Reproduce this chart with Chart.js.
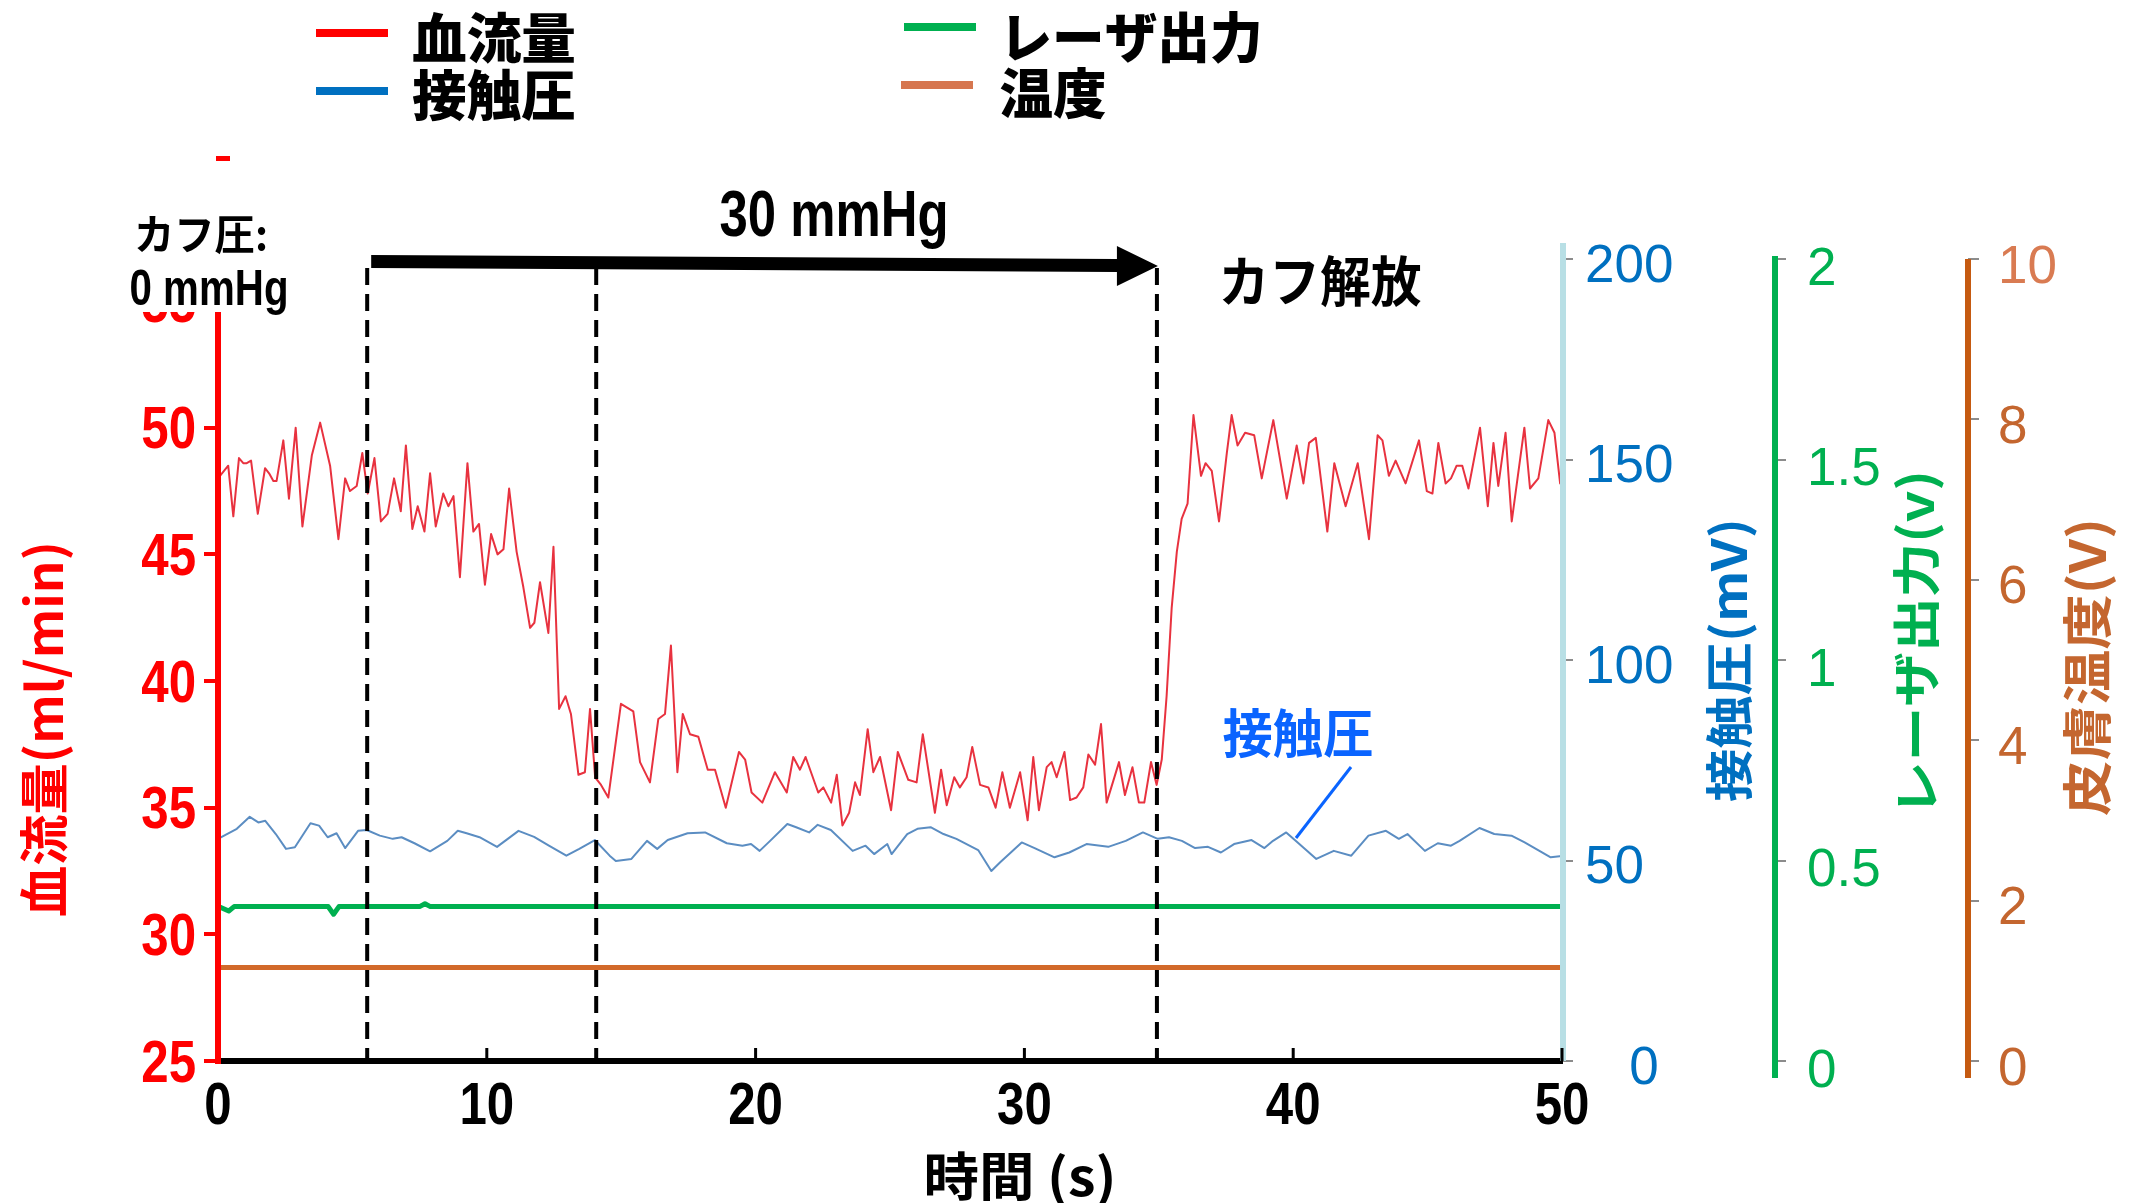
<!DOCTYPE html>
<html lang="ja">
<head>
<meta charset="utf-8">
<title>血流量・接触圧・レーザ出力・温度</title>
<script src="https://cdn.jsdelivr.net/npm/chart.js@4.4.1/dist/chart.umd.min.js"></script>
<style>
  html, body { margin: 0; padding: 0; background: #ffffff; }
  #wrap { width: 2139px; height: 1203px; }
  canvas { display: block; }
</style>
</head>
<body>
<div id="wrap"><canvas id="c" width="2139" height="1203"></canvas></div>
<script>
// ---- measured signals -------------------------------------------------
// blood flow (ml/min) against time (s)
const flowTimes = [
  0.00, 0.38, 0.57, 0.78, 0.94, 1.07, 1.23, 1.48, 1.75, 1.90, 2.06, 2.18, 2.43, 2.64, 2.89, 3.14,
  3.49, 3.80, 4.17, 4.48, 4.73, 4.91, 5.16, 5.37, 5.57, 5.82, 6.06, 6.31, 6.55, 6.80, 6.99, 7.23,
  7.43, 7.68, 7.89, 8.10, 8.38, 8.57, 8.76, 9.00, 9.28, 9.50, 9.71, 9.93, 10.16, 10.40, 10.62, 10.83,
  11.11, 11.36, 11.61, 11.77, 11.98, 12.29, 12.48, 12.69, 12.93, 13.13, 13.41, 13.65, 13.84, 14.03, 14.25, 14.52,
  14.99, 15.45, 15.70, 16.07, 16.38, 16.63, 16.85, 17.09, 17.29, 17.56, 17.87, 18.22, 18.49, 18.89, 19.38, 19.61,
  19.85, 20.25, 20.72, 21.16, 21.40, 21.65, 21.86, 22.33, 22.52, 22.81, 23.02, 23.23, 23.48, 23.70, 23.88, 24.17,
  24.38, 24.63, 25.04, 25.29, 25.68, 25.99, 26.22, 26.67, 26.90, 27.11, 27.39, 27.60, 27.85, 28.06, 28.35, 28.66,
  28.93, 29.18, 29.46, 29.84, 30.12, 30.33, 30.54, 30.83, 31.01, 31.20, 31.49, 31.70, 31.94, 32.19, 32.38, 32.63,
  32.85, 33.06, 33.52, 33.74, 34.02, 34.26, 34.46, 34.71, 34.92, 35.11, 35.29, 35.48, 35.67, 35.85, 36.07, 36.29,
  36.57, 36.74, 36.97, 37.24, 37.53, 37.71, 37.93, 38.21, 38.55, 38.83, 39.26, 39.76, 40.13, 40.38, 40.59, 40.84,
  41.27, 41.53, 41.95, 42.40, 42.82, 43.14, 43.32, 43.56, 43.81, 44.18, 44.68, 44.97, 45.18, 45.40, 45.67, 45.87,
  46.08, 46.29, 46.52, 46.95, 47.24, 47.45, 47.63, 47.90, 48.13, 48.60, 48.81, 49.12, 49.49, 49.72, 49.93, 50.00
];
const flowValues = [
  48.0, 48.5, 46.5, 48.8, 48.6, 48.6, 48.7, 46.6, 48.4, 48.2, 47.9, 47.9, 49.5, 47.2, 50.0, 46.1,
  48.9, 50.2, 48.5, 45.6, 48.0, 47.5, 47.7, 49.0, 47.4, 48.8, 46.3, 46.6, 48.0, 46.7, 49.3, 46.0,
  46.9, 45.9, 48.2, 46.1, 47.4, 46.9, 47.3, 44.1, 48.6, 45.9, 46.2, 43.8, 45.8, 45.0, 45.2, 47.6,
  45.1, 43.7, 42.1, 42.3, 43.9, 41.9, 45.3, 38.9, 39.4, 38.7, 36.3, 36.4, 38.9, 36.2, 35.9, 35.4,
  39.1, 38.8, 36.8, 36.0, 38.5, 38.7, 41.4, 36.4, 38.7, 37.9, 37.8, 36.5, 36.5, 35.0, 37.2, 36.9,
  35.6, 35.2, 36.4, 35.6, 37.0, 36.5, 37.0, 35.6, 35.8, 35.2, 36.3, 34.3, 34.8, 36.0, 35.5, 38.1,
  36.4, 37.0, 34.9, 37.2, 36.1, 36.0, 37.9, 34.8, 36.5, 35.1, 36.2, 35.8, 36.2, 37.4, 35.9, 35.8,
  35.0, 36.4, 35.0, 36.4, 34.5, 37.0, 34.9, 36.6, 36.8, 36.2, 37.2, 35.3, 35.4, 35.8, 37.1, 36.7,
  38.3, 35.2, 36.8, 35.5, 36.6, 35.2, 35.2, 36.8, 35.9, 36.9, 39.4, 42.9, 45.1, 46.4, 47.0, 50.5,
  48.1, 48.6, 48.3, 46.3, 49.0, 50.5, 49.3, 49.8, 49.7, 48.0, 50.3, 47.2, 49.3, 47.8, 49.4, 49.6,
  45.9, 48.6, 46.9, 48.6, 45.6, 49.7, 49.5, 48.1, 48.7, 47.8, 49.5, 47.5, 47.4, 49.4, 47.8, 48.0,
  48.5, 48.5, 47.6, 50.0, 46.9, 49.4, 47.7, 49.8, 46.3, 50.0, 47.6, 48.0, 50.3, 49.8, 47.8, 48.7
];

// contact pressure (mV)
const contactTimes = [
  0.00, 0.70, 1.18, 1.50, 1.76, 2.15, 2.53, 2.86, 3.44, 3.76, 4.08, 4.41, 4.73, 5.21, 5.53, 6.02,
  6.50, 6.83, 7.31, 7.89, 8.53, 8.92, 9.25, 9.73, 10.38, 11.18, 11.76, 12.31, 12.96, 13.44, 14.02, 14.57,
  14.80, 15.38, 15.96, 16.34, 16.73, 17.47, 18.12, 18.93, 19.51, 19.83, 20.15, 20.54, 21.18, 21.51, 21.99, 22.31,
  22.80, 23.61, 24.09, 24.41, 24.90, 25.06, 25.64, 26.02, 26.51, 26.99, 27.47, 28.28, 28.77, 29.09, 29.90, 30.38,
  31.12, 31.67, 32.31, 33.12, 33.77, 34.41, 34.96, 35.38, 35.86, 36.35, 36.83, 37.31, 37.80, 38.45, 38.93, 39.25,
  39.74, 40.06, 40.86, 41.51, 42.16, 42.80, 43.45, 43.93, 44.25, 44.90, 45.38, 45.87, 46.19, 46.93, 47.48, 48.12,
  48.61, 49.58, 50.00
];
const contactValues = [
  55.4, 57.9, 60.9, 59.5, 59.9, 56.6, 52.9, 53.3, 59.3, 58.7, 55.8, 56.8, 53.1, 57.4, 57.6, 56.2,
  55.4, 55.8, 54.3, 52.3, 54.9, 57.4, 56.8, 55.8, 53.4, 57.4, 55.9, 53.7, 51.2, 52.9, 55.1, 51.2,
  49.9, 50.4, 54.9, 52.9, 55.1, 56.8, 57.0, 54.3, 53.7, 54.1, 52.4, 54.9, 59.1, 58.3, 57.0, 58.9,
  57.6, 52.4, 53.7, 51.6, 54.1, 51.6, 56.6, 57.9, 58.3, 56.6, 55.4, 52.6, 47.4, 49.5, 54.5, 53.1,
  50.8, 52.0, 54.1, 53.4, 54.9, 57.0, 55.4, 55.8, 54.9, 53.1, 53.4, 52.0, 54.1, 55.1, 53.1, 54.9,
  57.0, 55.1, 50.4, 52.4, 51.2, 56.2, 57.4, 55.4, 56.6, 52.4, 54.3, 53.7, 54.9, 58.1, 56.6, 56.2,
  54.5, 50.8, 51.1
];

// laser output (V)
const laserTimes  = [0.0, 0.4, 0.6, 4.1, 4.3, 4.5, 7.5, 7.7, 7.9, 50.0];
const laserValues = [0.386, 0.374, 0.385, 0.385, 0.366, 0.385, 0.385, 0.392, 0.385, 0.385];

// skin temperature sensor (V)
const tempTimes  = [0, 50];
const tempValues = [1.165, 1.165];

// cuff pressure steps: 30 mmHg applied, pressure reached, cuff released (s)
const cuffMarks = [5.55, 14.07, 34.93];

// axis ticks
const timeTicks    = [0, 10, 20, 30, 40, 50];
const flowTicks    = [25, 30, 35, 40, 45, 50, 55];
const contactTicks = [0, 50, 100, 150, 200];
const laserTicks   = [0, 0.5, 1, 1.5, 2];
const tempTicks    = [0, 2, 4, 6, 8, 10];

const seriesNames = ['血流量', '接触圧', 'レーザ出力', '温度'];

// ---- fonts ------------------------------------------------------------
const SANS = '"Liberation Sans", Arial, sans-serif';
const CJK  = '"Noto Sans CJK JP", "Noto Sans CJK SC", sans-serif';
const NARROW_SCALE = 0.82;   // condensed digits for the time and flow axes

const pts = (xs, ys) => xs.map((x, i) => ({ x: x, y: ys[i] }));
const fixedTicks = (list) => (scale) => { scale.ticks = list.map(v => ({ value: v })); };

// draws text centred on (cx, cy), stretched or squeezed to the given length
function fitText(ctx, text, cx, cy, length, font, color, angle) {
  ctx.save();
  ctx.font = font;
  ctx.fillStyle = color;
  ctx.textAlign = 'center';
  ctx.textBaseline = 'middle';
  const w = ctx.measureText(text).width;
  ctx.translate(cx, cy);
  if (angle) ctx.rotate(angle);
  ctx.scale(length / w, 1);
  ctx.fillText(text, 0, 0);
  ctx.restore();
}

// draws text with a fixed horizontal squeeze, anchored by align
function narrowText(ctx, text, x, y, font, color, align) {
  ctx.save();
  ctx.font = font;
  ctx.fillStyle = color;
  ctx.textAlign = align;
  ctx.textBaseline = 'middle';
  ctx.translate(x, y);
  ctx.scale(NARROW_SCALE, 1);
  ctx.fillText(text, 0, 0);
  ctx.restore();
}

const overlay = {
  id: 'overlay',
  afterDraw(chart) {
    const ctx = chart.ctx;
    const xs = chart.scales.x;
    const area = chart.chartArea;
    const s = chart.scales;

    // condensed tick labels of the time axis and the flow axis
    xs.ticks.forEach(t => {
      narrowText(ctx, String(t.value), xs.getPixelForValue(t.value), area.bottom + 46,
                 'bold 60px ' + SANS, '#000000', 'center');
    });
    s.flow.ticks.forEach(t => {
      narrowText(ctx, String(t.value), s.flow.right - 22, s.flow.getPixelForValue(t.value) + 4,
                 'bold 60px ' + SANS, '#ff0000', 'right');
    });

    // right-hand axis lines
    ctx.save();
    ctx.lineCap = 'butt';
    ctx.lineWidth = 6;
    ctx.strokeStyle = '#b8dfe5';
    ctx.beginPath(); ctx.moveTo(s.contact.left + 1, 243); ctx.lineTo(s.contact.left + 1, area.bottom); ctx.stroke();
    ctx.strokeStyle = '#00b050';
    ctx.beginPath(); ctx.moveTo(s.laser.left, 256); ctx.lineTo(s.laser.left, area.bottom + 17); ctx.stroke();
    ctx.strokeStyle = '#c55a11';
    ctx.beginPath(); ctx.moveTo(s.temp.left, 259); ctx.lineTo(s.temp.left, area.bottom + 17); ctx.stroke();

    // red flow axis
    ctx.strokeStyle = '#ff0000';
    ctx.beginPath(); ctx.moveTo(area.left, s.flow.getPixelForValue(55) - 4); ctx.lineTo(area.left, area.bottom + 3); ctx.stroke();

    // inward ticks on the time axis
    ctx.strokeStyle = '#000000';
    ctx.lineWidth = 3;
    timeTicks.forEach(t => {
      if (t === 0) return;
      const px = xs.getPixelForValue(t);
      ctx.beginPath(); ctx.moveTo(px, area.bottom); ctx.lineTo(px, area.bottom - 13); ctx.stroke();
    });

    // dashed markers for the cuff events
    ctx.setLineDash([17, 9]);
    ctx.lineWidth = 4;
    cuffMarks.forEach(t => {
      const px = xs.getPixelForValue(t);
      ctx.beginPath(); ctx.moveTo(px, 268); ctx.lineTo(px, area.bottom - 2); ctx.stroke();
    });
    ctx.setLineDash([]);

    // 30 mmHg arrow
    const ax0 = xs.getPixelForValue(cuffMarks[0]) + 4;
    const ax1 = xs.getPixelForValue(cuffMarks[2]);
    ctx.fillStyle = '#000000';
    ctx.beginPath();
    ctx.moveTo(ax0, 255);
    ctx.lineTo(ax1 - 40, 259);
    ctx.lineTo(ax1 - 40, 246);
    ctx.lineTo(ax1 + 1, 266);
    ctx.lineTo(ax1 - 40, 286);
    ctx.lineTo(ax1 - 40, 272);
    ctx.lineTo(ax0, 268);
    ctx.closePath();
    ctx.fill();
    ctx.restore();

    // label block for the starting cuff pressure
    ctx.fillStyle = '#ffffff';
    ctx.fillRect(110, 200, 190, 112);
    fitText(ctx, 'カフ圧:', 201, 234, 134, 'bold 42px ' + CJK, '#000000');
    fitText(ctx, '0 mmHg', 209, 291, 159, 'bold 50px ' + SANS, '#000000');
    fitText(ctx, '30 mmHg', 834, 218, 229, 'bold 64px ' + SANS, '#000000');
    fitText(ctx, 'カフ解放', 1320, 281, 203, 'bold 54px ' + CJK, '#000000');

    // small red mark under the legend
    ctx.fillStyle = '#ff0000';
    ctx.fillRect(216, 156, 14, 5);

    // legend
    const legendColors = ['#ff0000', '#0070c0', '#00b050', '#d6764f'];
    const legendPos = [
      { x0: 316, x1: 388, y: 33, tx: 494, tw: 164, ty: 38 },
      { x0: 316, x1: 388, y: 91, tx: 494, tw: 164, ty: 95 },
      { x0: 904, x1: 976, y: 27, tx: 1131, tw: 263, ty: 37 },
      { x0: 901, x1: 973, y: 85, tx: 1053, tw: 107, ty: 93 }
    ];
    seriesNames.forEach((name, i) => {
      const p = legendPos[i];
      ctx.fillStyle = legendColors[i];
      ctx.fillRect(p.x0, p.y - 4, p.x1 - p.x0, 8);
      fitText(ctx, name, p.tx, p.ty, p.tw, '900 54px ' + CJK, '#000000');
    });

    // axis titles
    const up = -Math.PI / 2;
    fitText(ctx, '血流量(ml/min)', 44, 729, 376, 'bold 50px ' + CJK, '#ff0000', up);
    fitText(ctx, '接触圧(mV)', 1729, 660, 284, 'bold 48px ' + CJK, '#0070c0', up);
    fitText(ctx, 'レーザ出力(v)', 1916, 643, 346, 'bold 48px ' + CJK, '#00b050', up);
    fitText(ctx, '皮膚温度(V)', 2087, 667, 298, 'bold 50px ' + CJK, '#c4662f', up);
    fitText(ctx, '時間 (s)', 1020, 1176, 193, 'bold 52px ' + CJK, '#000000');

    // contact pressure callout
    fitText(ctx, '接触圧', 1298, 733, 151, 'bold 52px ' + CJK, '#0a64ff');
    ctx.save();
    ctx.strokeStyle = '#0a64ff';
    ctx.lineWidth = 3;
    ctx.beginPath(); ctx.moveTo(1351, 767); ctx.lineTo(1296, 838); ctx.stroke();
    ctx.restore();
  }
};

const chart = new Chart(document.getElementById('c'), {
  type: 'line',
  data: {
    datasets: [
      { label: seriesNames[0], data: pts(flowTimes, flowValues), yAxisID: 'flow',
        borderColor: '#e8323f', borderWidth: 2 },
      { label: seriesNames[1], data: pts(contactTimes, contactValues), yAxisID: 'contact',
        borderColor: '#5b8dc2', borderWidth: 2 },
      { label: seriesNames[2], data: pts(laserTimes, laserValues), yAxisID: 'laser',
        borderColor: '#00b050', borderWidth: 5 },
      { label: seriesNames[3], data: pts(tempTimes, tempValues), yAxisID: 'temp',
        borderColor: '#d2692a', borderWidth: 5 }
    ]
  },
  options: {
    responsive: false,
    devicePixelRatio: 1,
    animation: false,
    layout: { padding: { top: 259, left: 0, right: 0, bottom: 0 } },
    elements: { point: { radius: 0 }, line: { tension: 0, borderCapStyle: 'round', borderJoinStyle: 'round' } },
    plugins: { legend: { display: false }, tooltip: { enabled: false } },
    scales: {
      x: {
        type: 'linear', position: 'bottom', min: 0, max: 50,
        afterBuildTicks: fixedTicks(timeTicks),
        afterFit: (sc) => { sc.height = 142; },
        grid: { display: false, drawTicks: false },
        border: { display: true, color: '#000000', width: 6 },
        ticks: { display: false }
      },
      flow: {
        type: 'linear', position: 'left', min: 25, max: 56.66,
        afterBuildTicks: fixedTicks(flowTicks),
        afterFit: (sc) => { sc.width = 218; },
        grid: { display: true, drawOnChartArea: false, color: '#ff0000', lineWidth: 4, tickLength: 14 },
        border: { display: false },
        ticks: { display: false }
      },
      contact: {
        type: 'linear', position: 'right', weight: 0, min: 0, max: 200,
        afterBuildTicks: fixedTicks(contactTicks),
        afterFit: (sc) => { sc.width = 213; },
        grid: { display: true, drawOnChartArea: false, color: '#8c8c8c', lineWidth: 2, tickLength: 11 },
        border: { display: false },
        ticks: { padding: 12, labelOffset: 8, color: '#0070c0',
                 callback: (v) => (v === 0 ? '\u2007\u2008' + v : String(v)),
                 font: { family: SANS, size: 53, lineHeight: 1 } }
      },
      laser: {
        type: 'linear', position: 'right', weight: 1, min: 0, max: 2,
        afterBuildTicks: fixedTicks(laserTicks),
        afterFit: (sc) => { sc.width = 193; },
        grid: { display: true, drawOnChartArea: false, color: '#8c8c8c', lineWidth: 2, tickLength: 11 },
        border: { display: false },
        ticks: { padding: 21, labelOffset: 11, color: '#00b050',
                 callback: (v) => String(v),
                 font: { family: SANS, size: 53, lineHeight: 1 } }
      },
      temp: {
        type: 'linear', position: 'right', weight: 2, min: 0, max: 10,
        afterBuildTicks: fixedTicks(tempTicks),
        afterFit: (sc) => { sc.width = 171; },
        grid: { display: true, drawOnChartArea: false, color: '#8c8c8c', lineWidth: 2, tickLength: 11 },
        border: { display: false },
        ticks: { padding: 19, labelOffset: 9,
                 color: (c) => (c.tick && c.tick.value === 10 ? '#d97b52' : '#c4662f'),
                 callback: (v) => String(v),
                 font: { family: SANS, size: 53, lineHeight: 1 } }
      }
    }
  },
  plugins: [overlay]
});
</script>
</body>
</html>
